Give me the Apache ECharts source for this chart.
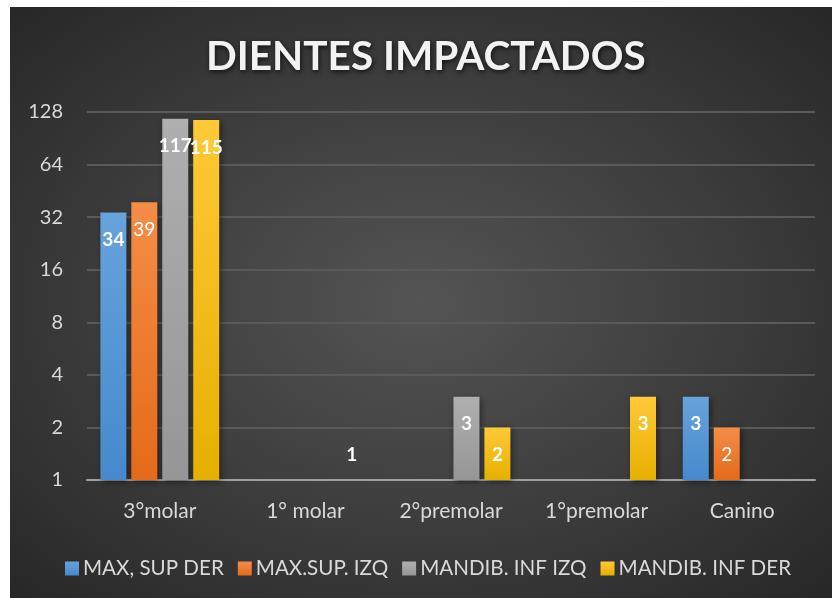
<!DOCTYPE html>
<html>
<head>
<meta charset="utf-8">
<script src="https://cdn.jsdelivr.net/npm/echarts@6/dist/echarts.min.js"></script>
<style>
    html, body { margin: 0; padding: 0; background: #fff; }
    #main {
        width: 832px;
        height: 598px;
        background: radial-gradient(ellipse at center, #545454 0%, #3c3c3c 55%, #272727 100%) 10px 7px / 822px 591px no-repeat, #fff;
    }
</style>
</head>
<body>
<div id="main"></div>
<script>
// 数据
const categories = ['3°molar', '1° molar', '2°premolar', '1°premolar', 'Canino'];
const seriesNames = ['MAX, SUP DER', 'MAX.SUP. IZQ', 'MANDIB. INF IZQ', 'MANDIB. INF DER'];
const maxSupDer = [34, '-', '-', '-', 3];
const maxSupIzq = [39, '-', '-', '-', 2];
const mandInfIzq = [117, '-', 3, '-', '-'];
const mandInfDer = [115, 1, 2, 3, '-'];
const yTicks = [1, 2, 4, 8, 16, 32, 64, 128];

const FONT = 'Lato, "Noto Sans", sans-serif';

let mychart = echarts.init(document.getElementById('main'));

function grad(top, bottom) {
    return new echarts.graphic.LinearGradient(0, 0, 0, 1, [
        { offset: 0, color: top },
        { offset: 1, color: bottom }
    ]);
}
const colors = [
    grad('#67a3dc', '#4689cc'),
    grad('#f48d48', '#e56a19'),
    grad('#afafaf', '#969696'),
    grad('#ffc938', '#e6b000')
];
const legendColors = ['#5b9bd5', '#ed7d31', '#a5a5a5', '#ffc000'];

function makeSeries(name, values, idx, bold) {
    return {
        name: name,
        type: 'bar',
        barWidth: 26,
        barGap: '19%',
        data: values.map(v => {
            // 值为1时柱高为0，标签放在基线上方
            if (v === 1) {
                return { value: v, label: { position: 'top', distance: 16 } };
            }
            return v;
        }),
        itemStyle: {
            color: colors[idx],
            shadowBlur: 6,
            shadowColor: 'rgba(0,0,0,0.45)',
            shadowOffsetX: 2,
            shadowOffsetY: 2
        },
        label: {
            show: true,
            position: 'insideTop',
            distance: 18,
            color: '#fff',
            fontSize: 19,
            fontFamily: FONT,
            fontWeight: bold ? 'bold' : 'normal'
        }
    };
}

let option = {
    backgroundColor: 'transparent',
    color: legendColors,
    title: {
        text: 'DIENTES IMPACTADOS',
        left: 201,
        top: 31,
        textStyle: {
            color: '#f2f2f2',
            fontSize: 40.5,
            fontWeight: 'bold',
            fontFamily: FONT,
            textShadowColor: 'rgba(0,0,0,0.7)',
            textShadowBlur: 5,
            textShadowOffsetX: 1,
            textShadowOffsetY: 2
        }
    },
    legend: {
        top: 553,
        left: 60,
        itemWidth: 14,
        itemHeight: 14,
        itemGap: 14,
        icon: 'rect',
        textStyle: { color: '#d9d9d9', fontSize: 20.6, fontFamily: FONT, padding: [0, 0, 0, -1] },
        data: seriesNames
    },
    grid: { left: 87, right: 17, top: 112, bottom: 118 },
    xAxis: {
        type: 'category',
        data: categories,
        axisTick: { show: false },
        axisLine: { lineStyle: { color: '#a0a0a0', width: 2 } },
        axisLabel: { color: '#d9d9d9', fontSize: 21, fontFamily: FONT, margin: 21 }
    },
    yAxis: {
        type: 'log',
        logBase: 2,
        min: yTicks[0],
        max: yTicks[yTicks.length - 1],
        splitNumber: yTicks.length - 1,
        axisLine: { show: false },
        axisTick: { show: false },
        axisLabel: { color: '#d9d9d9', fontSize: 20, fontFamily: FONT, margin: 24 },
        splitLine: { lineStyle: { color: '#5a5a5a', width: 2 } }
    },
    series: [
        makeSeries(seriesNames[0], maxSupDer, 0, true),
        makeSeries(seriesNames[1], maxSupIzq, 1, false),
        makeSeries(seriesNames[2], mandInfIzq, 2, true),
        makeSeries(seriesNames[3], mandInfDer, 3, true)
    ]
};
mychart.setOption(option);
</script>
</body>
</html>
